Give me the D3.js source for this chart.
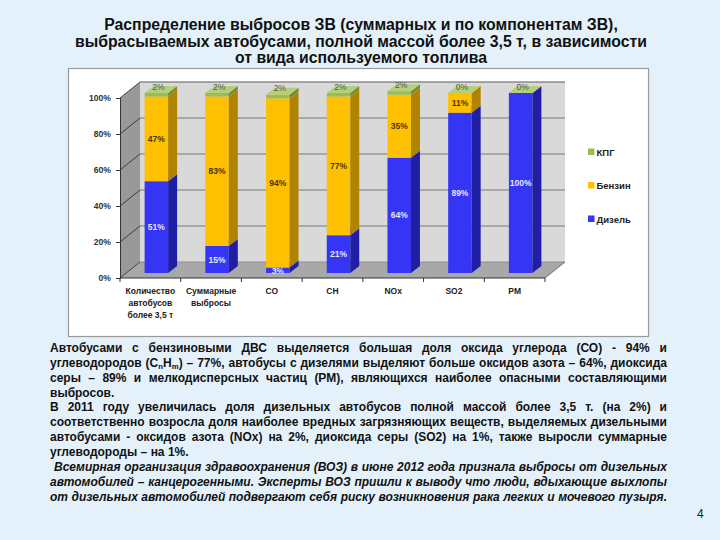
<!DOCTYPE html>
<html><head><meta charset="utf-8">
<script src="https://cdn.jsdelivr.net/npm/d3@7"></script>
<style>
html,body{margin:0;padding:0;background:#E4F1FB;}
svg{display:block;font-family:"Liberation Sans",Arial,sans-serif;}
</style></head>
<body>
<svg id="c" width="720" height="540"></svg>
<script>
// ---------- data ----------
const categories = ["Количество автобусов более 3,5 т", "Суммарные выбросы", "CO", "CH", "NOx", "SO2", "PM"];
const categoryLines = [["Количество", "автобусов", "более 3,5 т"], ["Суммарные", "выбросы"], ["CO"], ["CH"], ["NOx"], ["SO2"], ["PM"]];
const seriesNames = ["Дизель", "Бензин", "КПГ"];
const dieselValues = [51, 15, 3, 21, 64, 89, 100];
const petrolValues = [47, 83, 94, 77, 35, 11, 0];
const cngValues = [2, 2, 2, 2, 2, 0, 0];
const yTicks = [0, 20, 40, 60, 80, 100];
const titleLines = [
  "Распределение выбросов ЗВ (суммарных и по компонентам ЗВ),",
  "выбрасываемых автобусами, полной массой более 3,5 т, в зависимости",
  "от вида используемого топлива"
];
const bodyLines = [
  {words: "Автобусами с бензиновыми ДВС выделяется большая доля оксида углерода (СО) - 94% и", justify: true},
  {words: "углеводородов (C_nH_m) – 77%, автобусы с дизелями выделяют больше оксидов азота – 64%, диоксида", justify: true},
  {words: "серы – 89% и мелкодисперсных частиц (РМ), являющихся наиболее опасными составляющими", justify: true},
  {words: "выбросов.", justify: false},
  {words: "В 2011 году увеличилась доля дизельных автобусов полной массой более 3,5 т. (на 2%) и", justify: true},
  {words: "соответственно возросла доля наиболее вредных загрязняющих веществ, выделяемых дизельными", justify: true},
  {words: "автобусами - оксидов азота (NOx) на 2%, диоксида серы (SO2) на 1%, также выросли суммарные", justify: true},
  {words: "углеводороды – на 1%.", justify: false},
  {words: "Всемирная организация здравоохранения (ВОЗ) в июне 2012 года признала выбросы от дизельных", justify: true, italic: true, indent: 4},
  {words: "автомобилей – канцерогенными. Эксперты ВОЗ пришли к выводу что люди, вдыхающие выхлопы", justify: true, italic: true},
  {words: "от дизельных автомобилей подвергают себя риску возникновения рака легких и мочевого пузыря.", justify: true, italic: true}
];
const pageNumber = "4";

// ---------- styles ----------
const colors = {
  "Дизель": {front: "#3535F5", side: "#1F1FA6", top: "#5a5aff"},
  "Бензин": {front: "#FFC000", side: "#B08400", top: "#FFD248"},
  "КПГ":    {front: "#9BBB59", side: "#6F8A3A", top: "#B3CF7A"}
};

const svg = d3.select("#c");

// title
svg.append("g").selectAll("text").data(titleLines).join("text")
  .attr("x", 361).attr("y", (d, i) => 30 + i * 16.5)
  .attr("text-anchor", "middle")
  .attr("font-size", 15.8).attr("font-weight", "bold").attr("fill", "#111")
  .text(d => d);

// panel
svg.append("rect").attr("x", 68.5).attr("y", 68.5).attr("width", 580).attr("height", 268)
  .attr("fill", "#fff").attr("stroke", "#9a9a9a").attr("stroke-width", 1.2);

// ---------- chart ----------
const x = d3.scaleBand().domain(categories).range([120, 545]);
const y = d3.scaleLinear().domain([0, 100]).range([278, 98]);
const DX = 20, DY = 16;          // wall depth
const BX = 6, BY = 5;            // bar placement inside depth
const BD = 9, BDY = 7;           // bar depth
const barW = 23.5;

const g = svg.append("g");
const x0 = x.range()[0], x1 = x.range()[1];
g.append("path").attr("d", `M${x0},${y(100)}L${x0+DX},${y(100)-DY}L${x0+DX},${y(0)-DY}L${x0},${y(0)}Z`)
  .attr("fill", "#999");
g.append("rect").attr("x", x0 + DX).attr("y", y(100) - DY).attr("width", x1 - x0).attr("height", y(0) - y(100))
  .attr("fill", "#D9D9D9");
g.append("path").attr("d", `M${x0},${y(0)}L${x0+DX},${y(0)-DY}L${x1+DX},${y(0)-DY}L${x1},${y(0)}Z`)
  .attr("fill", "#A8A8A8");
yTicks.forEach(t => {
  g.append("line").attr("x1", x0 + DX).attr("x2", x1 + DX).attr("y1", y(t) - DY).attr("y2", y(t) - DY)
    .attr("stroke", t === 0 ? "#8a8a8a" : "#6e6e6e").attr("stroke-width", 0.9);
  g.append("line").attr("x1", x0).attr("x2", x0 + DX).attr("y1", y(t)).attr("y2", y(t) - DY)
    .attr("stroke", "#333").attr("stroke-width", 0.9);
});
g.append("line").attr("x1", x0 + DX).attr("x2", x1 + DX).attr("y1", y(100) - DY).attr("y2", y(100) - DY)
  .attr("stroke", "#8a8a8a").attr("stroke-width", 0.8);
g.append("line").attr("x1", x1).attr("x2", x1 + DX).attr("y1", y(0)).attr("y2", y(0) - DY)
  .attr("stroke", "#555").attr("stroke-width", 0.8);

// y axis
const yAxis = g.append("g").attr("transform", `translate(${x0},0)`)
  .call(d3.axisLeft(y).tickValues(yTicks).tickFormat(d => d + "%").tickSize(4).tickPadding(5));
yAxis.select(".domain").attr("stroke", "#333");
yAxis.selectAll(".tick line").attr("stroke", "#333");
yAxis.selectAll("text").attr("font-size", 8.6).attr("font-weight", "bold").attr("fill", "#333")
  .attr("font-family", "'Liberation Sans',Arial,sans-serif");

// x axis
g.append("line").attr("x1", x0).attr("x2", x1).attr("y1", y(0)).attr("y2", y(0)).attr("stroke", "#333");
const bounds = categories.map(c => x(c)).concat([x1]);
g.selectAll(".xt").data(bounds).join("line").attr("class", "xt")
  .attr("x1", d => d).attr("x2", d => d).attr("y1", y(0)).attr("y2", y(0) + 4).attr("stroke", "#333");
categories.forEach((c, i) => {
  const t = g.append("text").attr("text-anchor", "middle").attr("font-size", 8.5).attr("font-weight", "bold")
    .attr("fill", "#222");
  categoryLines[i].forEach((ln, j) => {
    t.append("tspan").attr("x", x(c) + x.bandwidth() / 2).attr("y", 294 + j * 12).text(ln);
  });
});

// bars
const seriesData = [dieselValues, petrolValues, cngValues];
const stack = categories.map((c, i) => {
  let acc = 0;
  return seriesNames.map((s, k) => {
    const v = seriesData[k][i];
    const seg = {cat: c, series: s, v0: acc, v1: acc + v, value: v};
    acc += v;
    return seg;
  });
});
const labelCol = {"Дизель": "#e6e6ff", "Бензин": "#4a3600", "КПГ": "#555"};
stack.forEach(segs => {
  const bg = g.append("g");
  segs.forEach(s => {
    const fx = x(s.cat) + x.bandwidth() / 2 + BX - barW / 2;
    const yt = y(s.v1) - BY, yb = y(s.v0) - BY;
    const col = colors[s.series];
    bg.append("rect").attr("x", fx).attr("y", yt).attr("width", barW).attr("height", Math.max(0, yb - yt))
      .attr("fill", col.front);
    bg.append("path").attr("d", `M${fx+barW},${yt}L${fx+barW+BD},${yt-BDY}L${fx+barW+BD},${yb-BDY}L${fx+barW},${yb}Z`)
      .attr("fill", col.side);
    bg.append("path").attr("d", `M${fx},${yt}L${fx+BD},${yt-BDY}L${fx+barW+BD},${yt-BDY}L${fx+barW},${yt}Z`)
      .attr("fill", col.top);
  });
  segs.forEach(s => {
    const cx = x(s.cat) + x.bandwidth() / 2 + BX;
    let ly;
    if (s.series === "КПГ") ly = y(s.v1) - BY - 3.5;
    else if (s.series === "Бензин" && s.value === 0) return;
    else ly = (y(s.v0) + y(s.v1)) / 2 - BY + 3;
    if (s.series === "Дизель" && s.value < 5) ly = y(s.v0) - BY + 1;
    g.append("text").attr("x", cx + (s.series === "КПГ" ? 2 : 0)).attr("y", ly).attr("text-anchor", "middle")
      .attr("font-size", 8.5).attr("font-weight", s.series === "КПГ" ? "normal" : "bold")
      .attr("fill", labelCol[s.series]).text(s.value + "%");
  });
});

// legend
const legendOrder = ["КПГ", "Бензин", "Дизель"];
const lg = svg.append("g").selectAll("g").data(legendOrder).join("g")
  .attr("transform", (d, i) => `translate(588,${152 + i * 33.5})`);
lg.append("rect").attr("x", 0).attr("y", -3.5).attr("width", 6.5).attr("height", 6.5).attr("fill", d => colors[d].front);
lg.append("text").attr("x", 8.5).attr("y", 3.5).attr("font-size", 9.5).attr("font-weight", "bold").attr("fill", "#222")
  .text(d => d);

// ---------- body text (justified) ----------
const TX = 50, TW = 617, TY0 = 352, TLH = 14.85, TFS = 12;
const tg = svg.append("g");
bodyLines.forEach((ln, i) => {
  const yy = TY0 + i * TLH;
  const words = ln.words.split(" ");
  const startX = TX + (ln.indent || 0);
  const avail = TW - (ln.indent || 0);
  const els = words.map(w => {
    const t = tg.append("text").attr("y", yy).attr("font-size", TFS).attr("font-weight", "bold")
      .attr("font-style", ln.italic ? "italic" : "normal").attr("fill", "#111");
    if (w.includes("_")) {
      w.split(/(_[a-z])/).forEach(p => {
        if (!p) return;
        if (p[0] === "_") t.append("tspan").attr("font-size", TFS * 0.65).attr("baseline-shift", "-2").text(p.slice(1));
        else t.append("tspan").text(p);
      });
    } else t.text(w);
    return t;
  });
  const widths = els.map(e => e.node().getComputedTextLength());
  const sum = d3.sum(widths);
  let gap = ln.justify ? (avail - sum) / (words.length - 1) : TFS * 0.28;
  let scale = 1;
  if (gap < 2.2) { gap = 2.2; scale = (avail - gap * (words.length - 1)) / sum; }
  let cx = startX;
  els.forEach((e, k) => {
    e.attr("x", cx);
    if (scale !== 1) e.attr("textLength", widths[k] * scale).attr("lengthAdjust", "spacingAndGlyphs");
    cx += widths[k] * scale + gap;
  });
});

svg.append("text").attr("x", 697).attr("y", 518).attr("font-size", 12).attr("fill", "#222").text(pageNumber);
</script>
</body></html>
